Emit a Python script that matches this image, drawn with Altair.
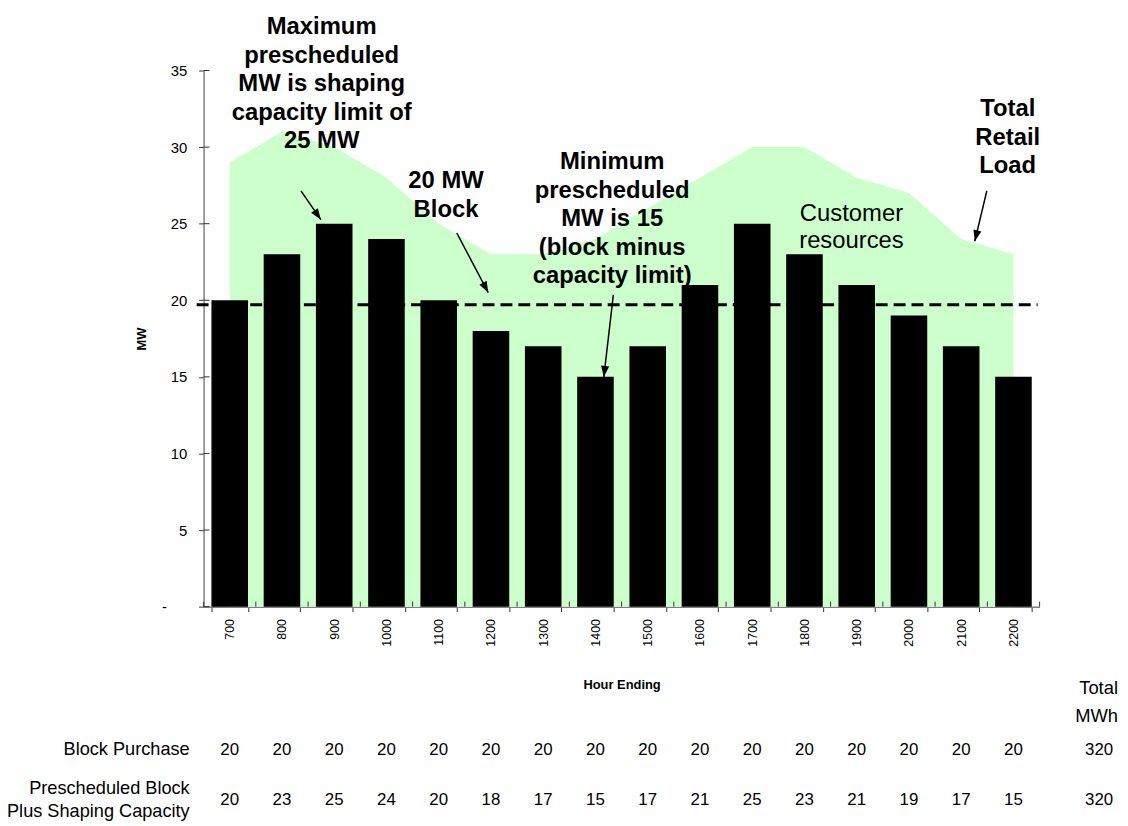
import math
import altair as alt
import pandas as pd

# ---------------- data ----------------
hours = ["700", "800", "900", "1000", "1100", "1200", "1300", "1400",
         "1500", "1600", "1700", "1800", "1900", "2000", "2100", "2200"]
retail_load = [29, 31, 30, 28, 25, 23, 23, 24, 26, 28, 30, 30, 28, 27, 24, 23]
prescheduled = [20, 23, 25, 24, 20, 18, 17, 15, 17, 21, 25, 23, 21, 19, 17, 15]
block_purchase = [20, 20, 20, 20, 20, 20, 20, 20, 20, 20, 20, 20, 20, 20, 20, 20]
block_line_mw = [19.7]
row_labels = ["Block Purchase", "Prescheduled Block\nPlus Shaping Capacity"]
row_totals = [320, 320]
total_header = "Total\nMWh"
y_ticks = [0, 5, 10, 15, 20, 25, 30, 35]
zero_label = "-"

# annotation texts (position in hour-index units / MW units)
bold_notes = [
    "Maximum\nprescheduled\nMW is shaping\ncapacity limit of\n25 MW",
    "20 MW\nBlock",
    "Minimum\nprescheduled\nMW is 15\n(block minus\ncapacity limit)",
    "Total\nRetail\nLoad",
]
bold_note_x = [2.26, 4.64, 7.82, 15.39]
bold_note_y = [37.35, 27.3, 28.56, 32.02]
plain_notes = ["Customer\nresources"]
plain_note_x = [12.40]
plain_note_y = [25.15]

# arrows: start -> tip (hour-index units / MW units)
arrow_x1 = [1.864, 4.846, 7.842, 14.99]
arrow_y1 = [27.14, 24.39, 20.35, 27.14]
arrow_x2 = [2.244, 5.448, 7.660, 14.76]
arrow_y2 = [25.26, 20.50, 14.99, 23.85]

# ---------------- layout ----------------
W, H = 842, 540
PAD_L, PAD_T = 197, 60
TOTAL_W, TOTAL_H = 1120, 818
FONT = "Liberation Sans"
N = len(hours)
Y_MAX = 35

df = pd.DataFrame({"hour": hours, "load": retail_load, "presched": prescheduled,
                   "block": block_purchase})

xscale = alt.Scale(domain=hours, paddingInner=0.3, paddingOuter=0.15)
xaxis = alt.Axis(title="Hour Ending", labelAngle=270, labelFontSize=12.5,
                 labelColor="black", labelPadding=7, tickBand="extent",
                 tickSize=5, tickColor="#333333", domainColor="#808080",
                 domainWidth=1.5, grid=False, titleFontSize=13,
                 titleFontWeight="bold", titleColor="black", titlePadding=33)
x_enc = alt.X("hour:N", sort=hours, scale=xscale, axis=xaxis)

yscale = alt.Scale(domain=[0, Y_MAX], nice=False, zero=True)
yaxis = alt.Axis(title="MW", values=y_ticks, grid=False,
                 labelExpr="datum.value == 0 ? '' : datum.label",
                 labelFontSize=15, labelColor="black", labelPadding=12,
                 tickSize=5, tickColor="#333333", domainColor="#808080",
                 domainWidth=1.5, titleFontSize=13, titleFontWeight="bold",
                 titleColor="black", titlePadding=22)

area = alt.Chart(df).mark_area(color="#CCFFCC", opacity=1).encode(
    x=x_enc, y=alt.Y("load:Q", scale=yscale, axis=yaxis))
bars = alt.Chart(df).mark_bar(color="black").encode(
    x=x_enc, y=alt.Y("presched:Q", scale=yscale, axis=yaxis))
block_rule = alt.Chart(pd.DataFrame({"mw": block_line_mw})).mark_rule(
    color="black", strokeDash=[12, 6], strokeWidth=3).encode(
    y=alt.Y("mw:Q", scale=yscale, axis=yaxis),
    x=alt.value(-7), x2=alt.value(W - 2))
ytick_in = alt.Chart(pd.DataFrame({"mw": y_ticks})).mark_rule(
    color="#333333", strokeWidth=1).encode(
    y=alt.Y("mw:Q", scale=yscale, axis=yaxis), x=alt.value(0), x2=alt.value(6))
zero_lab = alt.Chart(pd.DataFrame({"mw": [0], "t": [zero_label]})).mark_text(
    fontSize=15, align="right", baseline="middle", color="black").encode(
    y=alt.Y("mw:Q", scale=yscale, axis=yaxis), x=alt.value(-37), text="t:N")

row1 = alt.Chart(df).mark_text(fontSize=17, color="black", baseline="middle").encode(
    x=x_enc, y=alt.value(684), text="block:Q")
row2 = alt.Chart(df).mark_text(fontSize=17, color="black", baseline="middle").encode(
    x=x_enc, y=alt.value(735), text="presched:Q")

lab_df = pd.DataFrame({"label": row_labels, "total": row_totals, "row": [0, 1]})
lab1 = alt.Chart(lab_df.iloc[[0]]).mark_text(
    fontSize=18.3, align="right", baseline="middle", color="black").encode(
    x=alt.value(-14), y=alt.value(684), text="label:N")
lab2 = alt.Chart(lab_df.iloc[[1]]).mark_text(
    fontSize=18.3, align="right", baseline="middle", color="black",
    lineBreak="\n", lineHeight=23).encode(
    x=alt.value(-14), y=alt.value(724), text="label:N")
tot1 = alt.Chart(lab_df.iloc[[0]]).mark_text(fontSize=17, baseline="middle", color="black").encode(
    x=alt.value(902), y=alt.value(684), text="total:Q")
tot2 = alt.Chart(lab_df.iloc[[1]]).mark_text(fontSize=17, baseline="middle", color="black").encode(
    x=alt.value(902), y=alt.value(735), text="total:Q")
tot_head = alt.Chart(pd.DataFrame({"t": [total_header]})).mark_text(
    fontSize=18.5, align="right", baseline="middle", color="black",
    lineBreak="\n", lineHeight=28).encode(
    x=alt.value(921), y=alt.value(622), text="t:N")

main = alt.layer(area, bars, ytick_in, zero_lab, block_rule, row1, row2, lab1, lab2,
                 tot1, tot2, tot_head)

# ---------------- annotation layer (continuous x in hour-index units) ----------------
axscale = alt.Scale(domain=[0, N], nice=False, zero=False)
px_per_x = W / N
px_per_mw = H / Y_MAX

bold_df = pd.DataFrame({"x": bold_note_x, "y": bold_note_y, "t": bold_notes})
plain_df = pd.DataFrame({"x": plain_note_x, "y": plain_note_y, "t": plain_notes})
arr_df = pd.DataFrame({"x1": arrow_x1, "y1": arrow_y1, "x2": arrow_x2, "y2": arrow_y2})
arr_df["angle"] = [
    math.degrees(math.atan2((b - a) * px_per_x, (d - c) * px_per_mw)) % 360
    for a, b, c, d in zip(arr_df.x1, arr_df.x2, arr_df.y1, arr_df.y2)]
xtick_df = pd.DataFrame({"i": list(range(N + 1))})

bold_text = alt.Chart(bold_df).mark_text(
    fontSize=24, fontWeight="bold", color="black", align="center",
    baseline="alphabetic", lineBreak="\n", lineHeight=28.7).encode(
    x=alt.X("x:Q", scale=axscale, axis=None),
    y=alt.Y("y:Q", scale=yscale, axis=yaxis), text="t:N")
plain_text = alt.Chart(plain_df).mark_text(
    fontSize=24, color="black", align="center",
    baseline="alphabetic", lineBreak="\n", lineHeight=27.3).encode(
    x=alt.X("x:Q", scale=axscale, axis=None),
    y=alt.Y("y:Q", scale=yscale, axis=yaxis), text="t:N")
arrow_line = alt.Chart(arr_df).mark_rule(color="black", strokeWidth=1.5).encode(
    x=alt.X("x1:Q", scale=axscale, axis=None), x2="x2:Q",
    y=alt.Y("y1:Q", scale=yscale, axis=yaxis), y2="y2:Q")
arrow_head = alt.Chart(arr_df).mark_point(
    shape="M0,0L-0.42,1.15L0.42,1.15Z", filled=True, color="black",
    opacity=1, size=380, strokeWidth=0).encode(
    x=alt.X("x2:Q", scale=axscale, axis=None),
    y=alt.Y("y2:Q", scale=yscale, axis=yaxis),
    angle=alt.Angle("angle:Q", scale=None))
xtick_in = alt.Chart(xtick_df).mark_rule(color="#333333", strokeWidth=1).encode(
    x=alt.X("i:Q", scale=axscale, axis=None),
    y=alt.value(H - 5), y2=alt.value(H))

annot = alt.layer(xtick_in, bold_text, plain_text, arrow_line, arrow_head)

chart = alt.layer(main, annot).resolve_scale(x="independent").properties(
    width=W, height=H,
    padding={"left": PAD_L, "top": PAD_T,
             "right": TOTAL_W - PAD_L - W, "bottom": TOTAL_H - PAD_T - H},
    autosize=alt.AutoSizeParams(type="none"),
    background="white",
).configure(font=FONT).configure_view(stroke=None)

chart.save("out.html", embed_options={"renderer": "svg", "actions": False})
